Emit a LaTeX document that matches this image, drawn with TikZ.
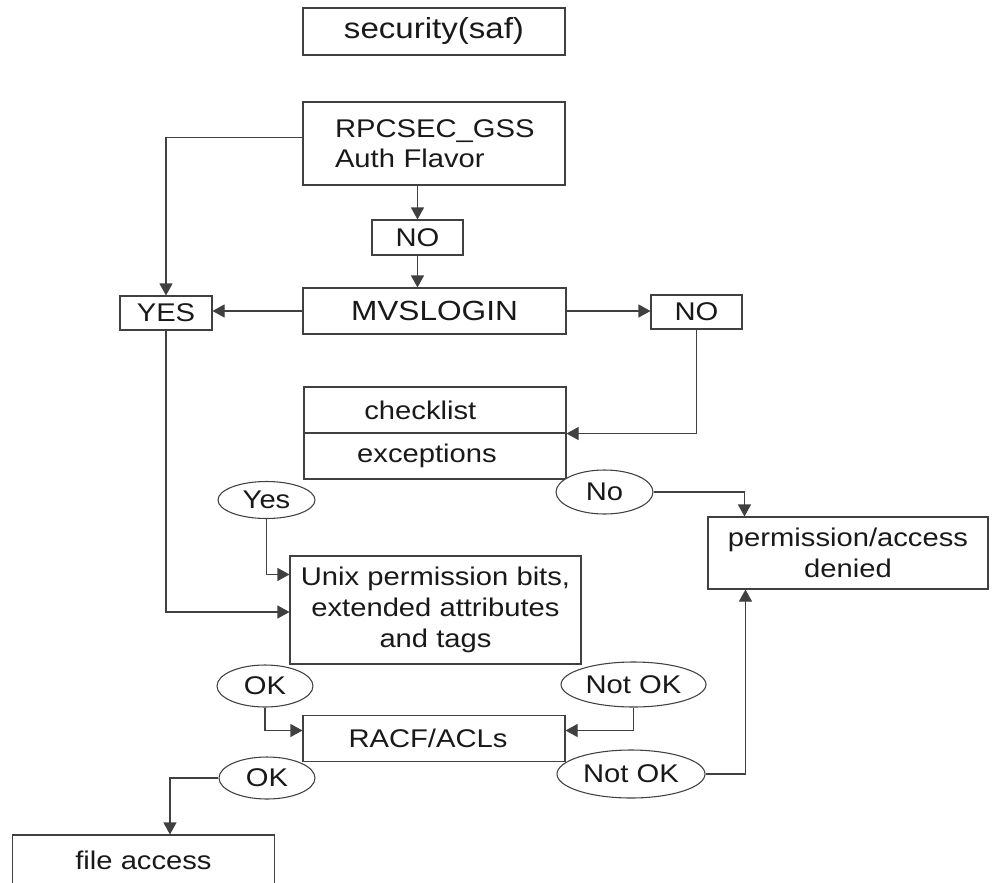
\documentclass[tikz,border=0pt]{standalone}
\usepackage{fontspec}
\setmainfont[FakeStretch=1.14]{Liberation Sans}
\usetikzlibrary{arrows.meta,shapes.geometric,calc}
\tikzset{
  box/.style={draw=black!75, line width=0.8pt, rectangle, inner sep=0pt, align=center, text=black!90},
  oval/.style={draw=black!75, line width=0.8pt, ellipse, fill=white, inner sep=0pt, text=black!90},
  arr/.style={draw=black!75, line width=0.8pt, -{Triangle[length=9pt,width=9.75pt]}},
}
\begin{document}
\begin{tikzpicture}[x=0.75pt,y=-0.75pt,font=\fontsize{19.2pt}{23.25pt}\selectfont]
\useasboundingbox (0,0) rectangle (992,882);
% boxes
\node[box, minimum width=196.5pt, minimum height=35.25pt, font=\fontsize{21.75pt}{24pt}\selectfont] (saf) at (434,31.5) {security(saf)};
\node[box, minimum width=196.5pt, minimum height=62.25pt, inner xsep=24pt, text width=148.5pt, align=left, font=\fontsize{19.2pt}{22.5pt}\selectfont] (rpc) at (434,143.5) {RPCSEC\_GSS\\Auth Flavor};
\node[box, minimum width=68.25pt, minimum height=26.25pt] (no1) at (417.5,237.5) {NO};
\node[box, minimum width=197.25pt, minimum height=34.5pt, font=\fontsize{20.8pt}{24pt}\selectfont] (mvs) at (434.5,311) {MVSLOGIN};
\node[box, minimum width=69pt, minimum height=25.5pt] (yes) at (166,313) {YES};
\node[box, minimum width=68.25pt, minimum height=25.5pt] (no2) at (696.5,312) {NO};
\node[box, minimum width=196.5pt, minimum height=34.5pt] (chk) at (435,410) {\hspace*{-22pt}checklist};
\node[box, minimum width=196.5pt, minimum height=34.5pt] (exc) at (435,456) {\hspace*{-12pt}exceptions};
\node[box, minimum width=210pt, minimum height=54pt] (perm) at (848,553) {permission/access\\denied};
\node[box, minimum width=218.25pt, minimum height=81pt] (unix) at (435.5,610) {Unix permission bits,\\extended attributes\\and tags};
\node[box, minimum width=196.5pt, minimum height=34.5pt] (racf) at (434,738.5) {\hspace*{-9pt}RACF/ACLs};
\node[box, minimum width=196.5pt, minimum height=37.5pt] (file) at (143.5,860) {file access};
% ovals
\node[oval, minimum width=72.75pt, minimum height=27.75pt] (yesE) at (266.5,500) {Yes};
\node[oval, minimum width=72.75pt, minimum height=33pt] (noE) at (604.5,492) {No};
\node[oval, minimum width=72pt, minimum height=31.5pt] (okE1) at (265,686) {OK};
\node[oval, minimum width=108.75pt, minimum height=33.75pt] (nokE1) at (633.5,684.5) {Not OK};
\node[oval, minimum width=72pt, minimum height=31.5pt] (okE2) at (267,778) {OK};
\node[oval, minimum width=111pt, minimum height=36pt] (nokE2) at (631,774) {Not OK};
% connectors
\draw[arr] ($(rpc.west)+(0,-6)$) -| (yes.north);
\draw[arr] (rpc.south -| no1.north) -- (no1.north);
\draw[arr] (no1.south) -- (mvs.north -| no1.south);
\draw[arr] (mvs.west) -- (mvs.west -| yes.east);
\draw[arr] (mvs.east) -- (mvs.east -| no2.west);
\draw[arr] (no2.south) |- (chk.south east);
\draw[arr] (yes.south) |- ($(unix.west)+(0,2)$);
\draw[arr] (yesE.south) |- ($(unix.north west)+(0,19)$);
\draw[arr] (noE.east) -| ($(perm.north west)+(37,0)$);
\draw[arr] (okE1.south) |- ($(racf.west)+(0,-8)$);
\draw[arr] (nokE1.south) |- ($(racf.east)+(0,-8)$);
\draw[arr] (okE2.west) -| ($(file.north west)+(158,0)$);
\draw[arr] (nokE2.east) -| ($(perm.south west)+(38,0)$);
\end{tikzpicture}
\end{document}
